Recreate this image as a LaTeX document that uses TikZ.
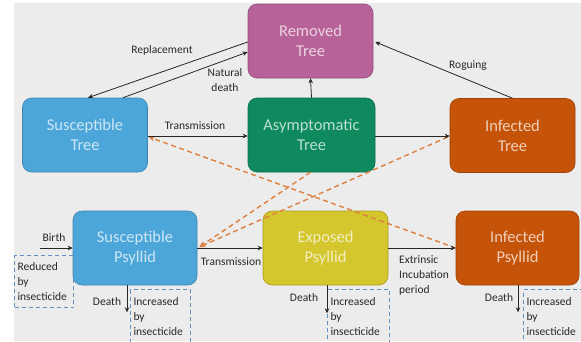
\documentclass[tikz,border=0pt]{standalone}
\usepackage{fontspec}
\setmainfont{Carlito}
\usetikzlibrary{arrows.meta,calc}
\definecolor{bg}{RGB}{236,236,236}
\definecolor{cRem}{RGB}{183,98,152}
\definecolor{cBlue}{RGB}{76,166,218}
\definecolor{cGreen}{RGB}{14,138,94}
\definecolor{cOrange}{RGB}{198,84,8}
\definecolor{cYellow}{RGB}{212,198,44}
\definecolor{cDashOr}{RGB}{222,128,66}
\definecolor{cDashBl}{RGB}{96,146,198}
\definecolor{cTxt}{RGB}{40,40,40}
\tikzset{
  stbox/.style={draw=#1!80!black, line width=0.6pt, fill=#1, rounded corners=9pt,
    minimum width=125pt, minimum height=74pt, text=white!72!#1, align=center,
    font=\fontsize{16.5}{20}\selectfont, inner sep=0pt},
  arr/.style={draw=black!85, line width=0.8pt, -{Stealth[length=5pt,width=4.5pt]}},
  dashor/.style={draw=cDashOr, line width=1.4pt, dash pattern=on 5pt off 3.5pt,
    -{Stealth[length=6pt,width=5.5pt]}},
  lbl/.style={text=cTxt, font=\fontsize{11.5}{15}\selectfont, inner sep=0pt},
  insbox/.style={draw=cDashBl, line width=1pt, dash pattern=on 4pt off 3pt,
    anchor=north west, minimum width=#1, text width=#1-6pt, align=left, inner sep=3pt,
    text=cTxt, font=\fontsize{11.5}{15}\selectfont}
}
\begin{document}
\begin{tikzpicture}[x=1pt,y=-1pt]
\useasboundingbox (0,0) rectangle (581,341);
\clip (0,0) rectangle (581,341);
\fill[white] (0,0) rectangle (581,341);
\fill[bg] (14,3) rectangle (581,341);

% compartments
\node[stbox=cRem]    (Rem)   at (310.5,41)  {Removed\\Tree};
\node[stbox=cBlue]   (ST)    at (85,135)    {Susceptible\\Tree};
\node[stbox=cGreen, minimum width=127pt] (AT) at (311.5,135) {Asymptomatic\\Tree};
\node[stbox=cOrange] (IT)    at (512.5,135.5) {Infected\\Tree};
\node[stbox=cBlue, minimum width=124pt]   (SP) at (135,248) {Susceptible\\Psyllid};
\node[stbox=cYellow] (EP)    at (325.5,248) {Exposed\\Psyllid};
\node[stbox=cOrange, minimum width=123pt] (IP) at (517.5,248) {Infected\\Psyllid};

% insecticide boxes
\node[insbox=59pt, minimum height=52pt] (redB) at (14,255) {Reduced\\by\\insecticide};
\node[insbox=60pt, minimum height=55pt] (incSP) at (130,289) {Increased\\by\\insecticide};
\node[insbox=62pt, minimum height=55pt] (incEP) at (327,289) {Increased\\by\\insecticide};
\node[insbox=62pt, minimum height=55pt] (incIP) at (523,289) {Increased\\by\\insecticide};

% dashed transmission between hosts
\draw[dashor] (IP.west) -- ($(ST.east)+(1,2)$);
\draw[dashor] ($(AT.south)+(-1,0)$) -- ($(SP.east)+(2,-1)$);
\draw[dashor] ($(IT.west)+(-2,1.5)$) -- ($(SP.east)+(2,-1)$);

% tree arrows
\draw[arr] ($(Rem.west)+(0,1)$) -- ($(ST.north)+(3,0)$);
\draw[arr] ($(ST.north)+(38,0)$) -- ($(Rem.west)+(0,11)$);
\draw[arr] (AT.north) -- (Rem.south);
\draw[arr] (IT.north) -- ($(Rem.east)+(2,1)$);
\draw[arr] ($(ST.east)+(0,1)$) -- ($(AT.west)+(0,1)$);
\draw[arr] ($(AT.east)+(0,1)$) -- ($(IT.west)+(0,0.5)$);

% psyllid arrows
\coordinate (birth) at (40,248);
\draw[arr] (birth) -- (SP.west);
\draw[arr] (SP.east) -- (EP.west);
\draw[arr] (EP.east) -- (IP.west);
\draw[arr] ($(SP.south)+(-8,0)$) -- ++(0,27);
\draw[arr] ($(EP.south)+(1.5,0)$) -- ++(0,28);
\draw[arr] ($(IP.south)+(0.5,0)$) -- ++(0,27);

% labels
\node[lbl] (lRep) at (162,50) {Replacement};
\node[lbl, align=center] (lNat) at (225,80) {Natural\\death};
\node[lbl] (lTrT) at (195,126) {Transmission};
\node[lbl] (lRog) at (468,66) {Roguing};
\node[lbl] (lBir) at (54,238) {Birth};
\node[lbl] (lTrP) at (231,262) {Transmission};
\node[lbl, align=left, anchor=north west] (lExt) at (399,255) {Extrinsic\\Incubation\\period};
\node[lbl] (lD1) at (107,302) {Death};
\node[lbl] (lD2) at (304,298) {Death};
\node[lbl] (lD3) at (499,298) {Death};
\end{tikzpicture}
\end{document}
